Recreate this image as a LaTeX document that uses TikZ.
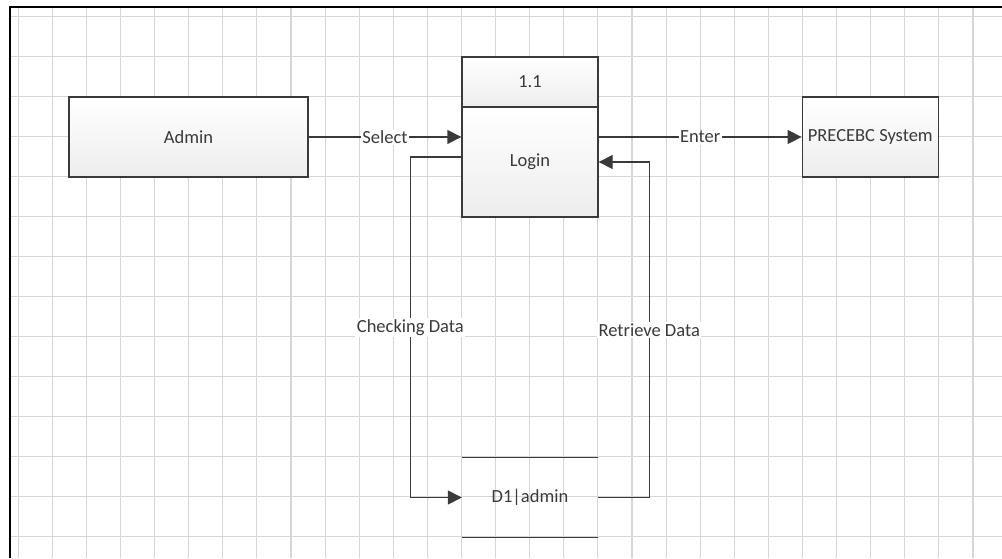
\documentclass[tikz,border=0pt]{standalone}
\usepackage{fontspec}
\setmainfont{Carlito}
\usetikzlibrary{arrows.meta, positioning}
\usepackage{xcolor}
\definecolor{ink}{HTML}{3A3A3A}
\definecolor{gridline}{HTML}{D6D6D6}

\begin{document}
\begin{tikzpicture}[
  x=1pt, y=-1pt,
  node distance=0pt,
  box/.style={draw=ink, line width=1.4pt, top color=white, bottom color=black!7, align=center,
    minimum height=80pt, text=ink, font=\fontsize{18.5}{22}\selectfont, inner sep=2pt},
  procbox/.style={box, minimum width=136pt},
  store/.style={minimum width=136pt, minimum height=80pt, text=ink, font=\fontsize{18.5}{22}\selectfont},
  arrow/.style={-{Triangle[length=14pt, width=14pt]}, draw=ink, line width=1.4pt},
  lbl/.style={fill=white, text=ink, inner sep=1.5pt, font=\fontsize{18.5}{22}\selectfont}
]

% page, grid and frame
\useasboundingbox (0,0) rectangle (1002,558);
\fill[white] (0,0) rectangle (1002,558);
\foreach \i in {0,...,28} \draw[gridline, line width=1.1pt] (18.2+34.1*\i,6) -- (18.2+34.1*\i,558);
\foreach \j in {0,...,13} \draw[gridline, line width=1.1pt] (9,16.7+40*\j) -- (1002,16.7+40*\j);
\draw[black, line width=2pt] (9.5,558) -- (9.5,6.5) -- (1002,6.5);

\node[box, minimum width=239pt] (admin) at (188.5,137) {Admin};
\node[procbox, minimum height=50pt] (pid) at (530,82) {1.1};
\node[procbox, minimum height=110pt, below=of pid, yshift=1.4pt] (login) {Login};
\node[box, minimum width=136pt] (sys) at (870.3,137) {PRECEBC System};
\node[store] (d1) at (530,497.5) {D1|admin};
\draw[ink, line width=1.4pt] (d1.north west) -- (d1.north east);
\draw[ink, line width=1.4pt] (d1.south west) -- (d1.south east);

\draw[arrow] (admin.east) -- node[lbl]{Select} (admin.east -| login.west);
\draw[arrow] (sys.west -| login.east) -- node[lbl]{Enter} (sys.west);
\draw[arrow] ([yshift=5pt]login.west) -- ++(-51,0) coordinate (chk)
  -- node[lbl]{Checking Data} (chk |- d1.west) -- (d1.west);
\draw[arrow] (d1.east) -- ++(51,0) coordinate (ret)
  -- node[lbl]{Retrieve Data} (ret |- login.east) -- (login.east);

\end{tikzpicture}
\end{document}
